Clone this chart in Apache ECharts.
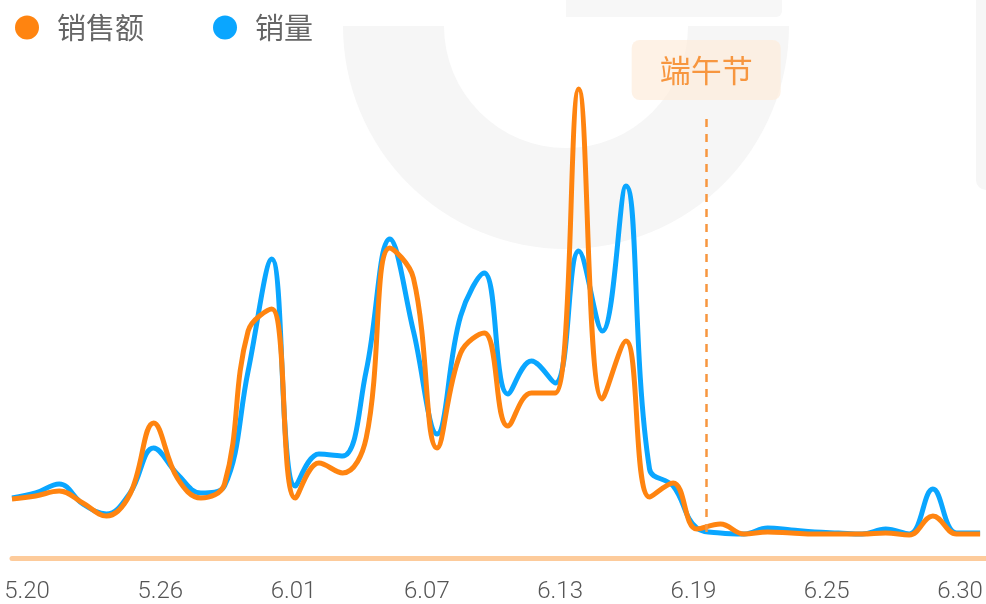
<!DOCTYPE html>
<html>
<head>
<meta charset="utf-8"/>
<title>销售额 / 销量</title>
<script src="https://cdn.jsdelivr.net/npm/echarts@6/dist/echarts.min.js"></script>
</head>
<body style="margin:0;background:#fff;">
<div id="main" style="width:986px;height:604px;"></div>
<script type="text/javascript">
// 每日数据 5.20 - 6.30
var dates = ['5.20','5.21','5.22','5.23','5.24','5.25','5.26','5.27','5.28','5.29','5.30','5.31',
  '6.01','6.02','6.03','6.04','6.05','6.06','6.07','6.08','6.09','6.10','6.11','6.12','6.13','6.14',
  '6.15','6.16','6.17','6.18','6.19','6.20','6.21','6.22','6.23','6.24','6.25','6.26','6.27','6.28',
  '6.29','6.30'];
var sales = [59, 62, 67, 55, 42, 64, 135, 80, 60, 74, 227, 249,
  60, 95, 85, 120, 310, 280, 110, 205, 225, 132, 165, 165, 469, 159,
  217, 61, 75, 29, 34, 24, 26, 25, 24, 24, 24, 25, 23, 42, 24, 24];
var volume = [60, 65, 74, 54, 44, 65, 110, 84, 65, 72, 187, 299,
  72, 104, 102, 187, 319, 227, 124, 242, 285, 164, 197, 175, 307, 227,
  372, 89, 72, 30, 25, 24, 30, 28, 26, 25, 24, 29, 24, 69, 25, 25];
// 底部刻度文字
var tickLabels = ['5.20', '5.26', '6.01', '6.07', '6.13', '6.19', '6.25', '6.30'];
var festivalName = '端午节';
var festivalPos = 29.4;

var ORANGE = '#ff8410';
var BLUE = '#0aa6ff';

var dom = document.getElementById('main');
var myChart = echarts.init(dom);

function pairs(arr) {
  return arr.map(function (v, i) { return [i, v]; });
}

var option = {
  backgroundColor: '#fff',
  animation: false,
  graphic: [
    { type: 'sector', z: 0, silent: true,
      shape: { cx: 566, cy: 26, r0: 122, r: 223, startAngle: 0, endAngle: Math.PI },
      style: { fill: '#f6f6f6' } },
    { type: 'rect', z: 0, silent: true,
      shape: { x: 566, y: 0, width: 216, height: 17, r: [0, 0, 6, 0] },
      style: { fill: '#f7f7f7' } },
    { type: 'rect', z: 0, silent: true,
      shape: { x: 976, y: 0, width: 12, height: 190, r: [0, 0, 0, 10] },
      style: { fill: '#f6f6f6' } }
  ],
  legend: {
    left: 10,
    top: 8,
    icon: 'circle',
    itemWidth: 24,
    itemHeight: 24,
    itemGap: 69,
    data: ['销售额', '销量'],
    textStyle: {
      color: '#666',
      fontSize: 29,
      fontFamily: 'Noto Sans CJK SC',
      padding: [0, 0, 0, 13]
    }
  },
  grid: [
    { left: 12, right: 0, top: 58, bottom: 46 },
    { left: 27, right: 26, top: 58, bottom: 46 }
  ],
  xAxis: [
    {
      type: 'value', gridIndex: 0, min: 0, max: 41.25,
      splitLine: { show: false },
      axisTick: { show: false },
      axisLabel: { show: false },
      axisLine: { show: true, lineStyle: { color: '#fdcb9b', width: 5 } }
    },
    {
      type: 'category', gridIndex: 1, boundaryGap: false,
      data: tickLabels,
      axisLine: { show: false },
      axisTick: { show: false },
      axisLabel: {
        interval: 0,
        margin: 24,
        color: '#555',
        fontSize: 24,
        fontWeight: 300,
        fontFamily: 'Roboto'
      }
    }
  ],
  yAxis: [
    { type: 'value', gridIndex: 0, min: 0, max: 500, show: false },
    { type: 'value', gridIndex: 1, min: 0, max: 500, show: false }
  ],
  series: [
    {
      name: '销量',
      type: 'line',
      smooth: 0.4,
      symbol: 'none',
      data: pairs(volume),
      itemStyle: { color: BLUE },
      lineStyle: { color: BLUE, width: 5 },
      z: 3
    },
    {
      name: '销售额',
      type: 'line',
      smooth: 0.4,
      symbol: 'none',
      data: pairs(sales),
      itemStyle: { color: ORANGE },
      lineStyle: { color: ORANGE, width: 5 },
      z: 4,
      markLine: {
        silent: true,
        symbol: ['none', 'none'],
        lineStyle: { color: '#f7963f', width: 2.5, type: [8, 7] },
        label: {
          show: true,
          position: 'end',
          distance: 15,
          formatter: festivalName,
          color: '#f7963f',
          fontSize: 31,
          fontFamily: 'Noto Sans CJK SC',
          lineHeight: 30,
          backgroundColor: 'rgba(253,236,219,0.7)',
          padding: [15, 28],
          borderRadius: 8
        },
        data: [[
          { coord: [festivalPos, 26] },
          { coord: [festivalPos, 443] }
        ]]
      }
    }
  ]
};
myChart.setOption(option);
</script>
</body>
</html>
